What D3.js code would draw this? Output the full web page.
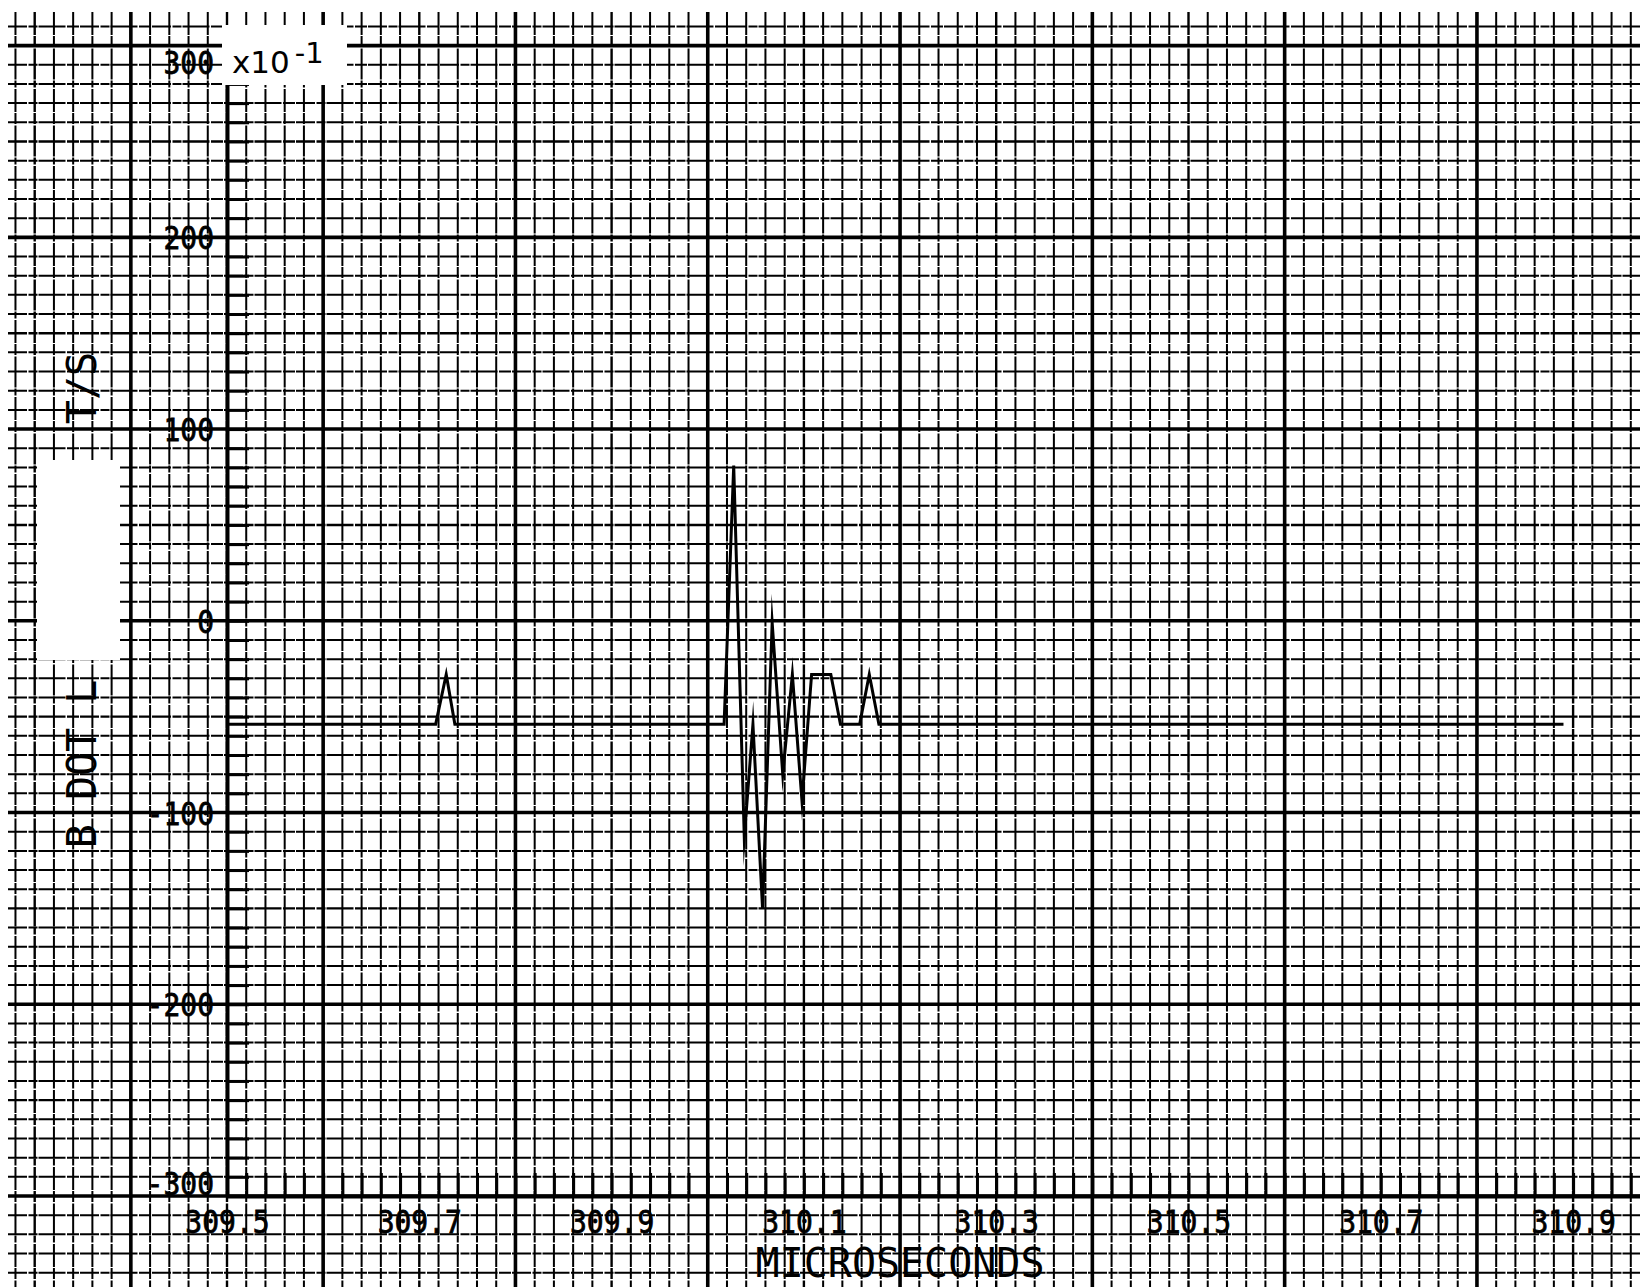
<!DOCTYPE html>
<html><head><meta charset="utf-8">
<script src="https://cdn.jsdelivr.net/npm/d3@7"></script>
<style>body{margin:0;background:#fff} svg{display:block}</style>
</head><body><svg id="c" width="1640" height="1287"></svg>
<script>
// ---- data ----
const xTickValues = [309.5, 309.7, 309.9, 310.1, 310.3, 310.5, 310.7, 310.9];
const xTickLabels = ["309.5", "309.7", "309.9", "310.1", "310.3", "310.5", "310.7", "310.9"];
const yTickValues = [300, 200, 100, 0, -100, -200, -300];
const yTickLabels = ["300", "200", "100", "0", "-100", "-200", "-300"];
const times = [309.5, 309.717, 309.728, 309.737, 310.017, 310.027, 310.038, 310.047, 310.057, 310.067,
               310.078, 310.088, 310.098, 310.108, 310.128, 310.138, 310.158, 310.168, 310.178, 310.89];
const bdot  = [-54, -54, -28, -54, -54, 81, -113, -54, -150, -1,
               -80, -28, -94, -28, -28, -54, -54, -28, -54, -54];
const xTitle = "MICROSECONDS";
const yTitleLow = "B DOT L";
const yTitleHigh = "T/S";
const scaleBase = "x10";
const scaleExp = "-1";

// ---- scales ----
const W = 1640, H = 1287;
const x = d3.scaleLinear().domain([309.5, 311.0]).range([227, 227 + 7.5 * 192.3]);
const y = d3.scaleLinear().domain([-300, 300]).range([1196, 45.6]);

const svg = d3.select("#c");
svg.append("rect").attr("width", W).attr("height", H).attr("fill", "#fff");

// ---- graph paper (0.02 us x 10 units cells) ----
const grid = svg.append("g").attr("stroke", "#000").attr("fill", "none");
const mod = (a, n) => ((a % n) + n) % n;
const dashV = "23,1,11,1.5,31,1,7,1.5";
const dashH = "19,1.5,9,1,27,1.5,12,1";
for (let k = -11; k <= 76; k++) {
  const t = 309.5 + k * 0.02;
  const px = x(t);
  if (px > W + 5) break;
  const m = mod(k, 10);
  const w = m === 5 ? 3.6 : (m === 0 ? 2.4 : 2.0);
  grid.append("line").attr("x1", px).attr("x2", px).attr("y1", 12).attr("y2", H)
    .attr("stroke-width", w).attr("stroke-dasharray", m === 5 ? null : dashV);
}
for (let j = 0; j <= 66; j++) {
  const v = 310 - j * 10;
  const py = y(v);
  if (py > H + 5) break;
  const m = mod(v, 100);
  const w = m === 0 ? 3.6 : (m === 50 ? 2.4 : 2.0);
  grid.append("line").attr("x1", 8).attr("x2", W).attr("y1", py).attr("y2", py)
    .attr("stroke-width", w).attr("stroke-dasharray", m === 0 ? null : dashH);
}

// ---- axes ----
const lblFont = "'DejaVu Sans Mono', 'Liberation Mono', monospace";
const yAxis = d3.axisLeft(y)
  .tickValues(d3.range(-300, 301, 10))
  .tickSizeInner(-22).tickSizeOuter(0).tickPadding(13)
  .tickFormat(d => { const i = yTickValues.indexOf(d); return i >= 0 ? yTickLabels[i] : ""; });
const gy = svg.append("g").attr("transform", `translate(${x(309.5)},0)`).call(yAxis);
gy.select(".domain").attr("stroke-width", 4);
gy.selectAll(".tick line").attr("stroke-width", 3);
gy.selectAll(".tick text").attr("font-family", lblFont).attr("font-size", 28).attr("fill", "#000")
  .attr("stroke", "#000").attr("stroke-width", 0.7)
  .attr("dy", 0)
  .attr("transform", d => `translate(0,${d === 300 ? 28 : (d === -300 ? -1.5 : 11.5)}) scale(1,1.12)`);

const xMinor = d3.range(0, 76).map(k => 309.5 + k * 0.02);
const xAxis = d3.axisBottom(x)
  .tickValues(xMinor)
  .tickSizeInner(-23).tickSizeOuter(0).tickPadding(14)
  .tickFormat(d => { const i = xTickValues.findIndex(v => Math.abs(v - d) < 1e-6); return i >= 0 ? xTickLabels[i] : ""; });
const gx = svg.append("g").attr("transform", `translate(0,${y(-300)})`).call(xAxis);
gx.select(".domain").attr("stroke-width", 4);
gx.selectAll(".tick line").attr("stroke-width", 3);
gx.selectAll(".tick text").attr("font-family", lblFont).attr("font-size", 28).attr("fill", "#000")
  .attr("stroke", "#000").attr("stroke-width", 0.7)
  .attr("y", 0).attr("dy", 0).attr("transform", "translate(0,37) scale(1,1.12)");

// ---- data trace ----
const line = d3.line().x((d, i) => x(times[i])).y(d => y(d));
svg.append("path").datum(bdot).attr("d", line)
  .attr("fill", "none").attr("stroke", "#000").attr("stroke-width", 3)
  .attr("stroke-linejoin", "miter").attr("stroke-miterlimit", 20);

// ---- blank label boxes ----
svg.append("rect").attr("x", 222).attr("y", 25).attr("width", 125).attr("height", 60).attr("fill", "#fff");
svg.append("rect").attr("x", 37).attr("y", 460).attr("width", 83).attr("height", 200).attr("fill", "#fff");

// scale note
const note = svg.append("text").attr("x", 232).attr("y", 73)
  .attr("font-family", "'DejaVu Sans', sans-serif").attr("font-size", 31).attr("fill", "#000");
note.append("tspan").text(scaleBase);
note.append("tspan").attr("dx", 5).attr("dy", -10).attr("font-size", 29).text(scaleExp);

// titles
svg.append("text").attr("x", x(310.2)).attr("y", 1277)
  .attr("text-anchor", "middle").attr("font-family", lblFont).attr("font-size", 40).attr("fill", "#000")
  .text(xTitle);
svg.append("text").attr("transform", "translate(96,764) rotate(-90)")
  .attr("text-anchor", "middle").attr("font-family", lblFont).attr("font-size", 40).attr("fill", "#000")
  .text(yTitleLow);
svg.append("text").attr("transform", "translate(96,388) rotate(-90)")
  .attr("text-anchor", "middle").attr("font-family", lblFont).attr("font-size", 40).attr("fill", "#000")
  .text(yTitleHigh);
</script></body></html>
